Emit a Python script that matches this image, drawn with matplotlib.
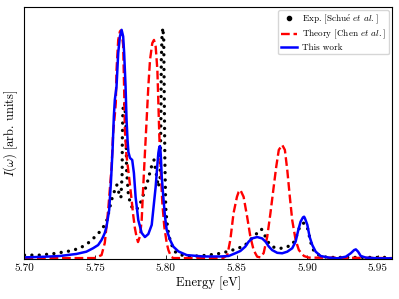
import matplotlib
matplotlib.use("Agg")
import matplotlib.pyplot as plt

plt.rcParams['font.family'] = 'serif'
plt.rcParams['font.serif'] = ['cmr10', 'DejaVu Serif']
plt.rcParams['mathtext.fontset'] = 'cm'
plt.rcParams['axes.unicode_minus'] = False

# Exp. [Schue et al.]  (energy in eV, intensity in arb. units)
exp_energy = [5.7000, 5.7107, 5.7213, 5.7320, 5.7391, 5.7447, 5.7497, 5.7545, 5.7580,
              5.7616, 5.7639, 5.7653, 5.7668, 5.7682, 5.7691, 5.7692, 5.7696, 5.7703,
              5.7710, 5.7719, 5.7722, 5.7734, 5.7746, 5.7760, 5.7781, 5.7803, 5.7829,
              5.7852, 5.7874, 5.7895, 5.7916, 5.7930, 5.7947, 5.7959, 5.7965, 5.7968,
              5.7973, 5.7979, 5.7985, 5.7989, 5.7993, 5.7999, 5.8006, 5.8018, 5.8030,
              5.8046, 5.8065, 5.8089, 5.8124, 5.8172, 5.8266, 5.8362, 5.8456, 5.8503,
              5.8550, 5.8586, 5.8610, 5.8634, 5.8657, 5.8676, 5.8692, 5.8705, 5.8729,
              5.8752, 5.8788, 5.8823, 5.8859, 5.8894, 5.8918, 5.8941, 5.8965, 5.8978,
              5.9001, 5.9012, 5.9024, 5.9036, 5.9060, 5.9095, 5.9143, 5.9581]
exp_int = [0.015, 0.015, 0.022, 0.033, 0.045, 0.066, 0.094, 0.125, 0.161,
           0.256, 0.300, 0.322, 0.287, 0.265, 0.374, 0.519, 0.650, 0.681,
           0.672, 0.562, 0.387, 0.287, 0.247, 0.225, 0.212, 0.221, 0.256,
           0.300, 0.344, 0.396, 0.431, 0.379, 0.313, 0.352, 0.606, 0.869,
           0.978, 1.009, 0.956, 0.694, 0.431, 0.225, 0.168, 0.112, 0.081,
           0.052, 0.030, 0.020, 0.013, 0.009, 0.013, 0.020, 0.033, 0.045,
           0.052, 0.074, 0.090, 0.103, 0.120, 0.129, 0.112, 0.095, 0.067,
           0.052, 0.045, 0.045, 0.052, 0.059, 0.088, 0.129, 0.153, 0.155,
           0.136, 0.107, 0.074, 0.045, 0.023, 0.011, 0.005, 0.005]

# Theory [Chen et al.]
chen_energy = [5.7000, 5.7497, 5.7545, 5.7568, 5.7592, 5.7616, 5.7627, 5.7639, 5.7646,
               5.7651, 5.7663, 5.7675, 5.7680, 5.7687, 5.7698, 5.7705, 5.7710, 5.7721,
               5.7734, 5.7746, 5.7758, 5.7769, 5.7781, 5.7793, 5.7803, 5.7817, 5.7829,
               5.7840, 5.7852, 5.7864, 5.7876, 5.7888, 5.7904, 5.7916, 5.7928, 5.7940,
               5.7947, 5.7954, 5.7964, 5.7975, 5.7989, 5.8006, 5.8018, 5.8037, 5.8053,
               5.8405, 5.8435, 5.8456, 5.8479, 5.8503, 5.8515, 5.8527, 5.8550, 5.8575,
               5.8598, 5.8621, 5.8646, 5.8669, 5.8692, 5.8717, 5.8740, 5.8763, 5.8781,
               5.8799, 5.8823, 5.8842, 5.8859, 5.8877, 5.8894, 5.8918, 5.8941, 5.8977,
               5.9012, 5.9607]
chen_int = [0.002, 0.002, 0.015, 0.068, 0.212, 0.400, 0.549, 0.628, 0.681,
            0.825, 0.956, 0.993, 0.997, 0.991, 0.934, 0.737, 0.562, 0.453,
            0.387, 0.322, 0.256, 0.190, 0.133, 0.094, 0.072, 0.098, 0.168,
            0.314, 0.462, 0.606, 0.752, 0.869, 0.942, 0.956, 0.927, 0.825,
            0.681, 0.533, 0.387, 0.243, 0.139, 0.068, 0.037, 0.008, 0.002,
            0.002, 0.015, 0.081, 0.199, 0.270, 0.291, 0.300, 0.270, 0.183,
            0.095, 0.037, 0.008, 0.005, 0.024, 0.095, 0.199, 0.314, 0.402,
            0.475, 0.497, 0.475, 0.387, 0.270, 0.168, 0.081, 0.037, 0.011,
            0.004, 0.002]

# This work
work_energy = [5.7000, 5.7107, 5.7249, 5.7367, 5.7438, 5.7485, 5.7521, 5.7545, 5.7556,
               5.7568, 5.7580, 5.7599, 5.7611, 5.7623, 5.7632, 5.7639, 5.7651, 5.7663,
               5.7675, 5.7687, 5.7698, 5.7705, 5.7715, 5.7722, 5.7729, 5.7735, 5.7746,
               5.7762, 5.7774, 5.7786, 5.7805, 5.7829, 5.7852, 5.7876, 5.7900, 5.7916,
               5.7928, 5.7937, 5.7947, 5.7954, 5.7959, 5.7964, 5.7971, 5.7982, 5.7994,
               5.8006, 5.8030, 5.8053, 5.8089, 5.8148, 5.8266, 5.8385, 5.8444, 5.8491,
               5.8527, 5.8562, 5.8586, 5.8610, 5.8646, 5.8681, 5.8705, 5.8729, 5.8752,
               5.8788, 5.8823, 5.8859, 5.8894, 5.8918, 5.8937, 5.8953, 5.8970, 5.8978,
               5.8984, 5.9001, 5.9017, 5.9036, 5.9060, 5.9095, 5.9154, 5.9214, 5.9273,
               5.9308, 5.9332, 5.9344, 5.9360, 5.9379, 5.9415, 5.9498, 5.9607]
work_int = [0.005, 0.007, 0.011, 0.020, 0.030, 0.045, 0.059, 0.081, 0.095,
            0.112, 0.139, 0.212, 0.329, 0.475, 0.621, 0.694, 0.752, 0.899,
            0.971, 1.000, 0.971, 0.899, 0.752, 0.606, 0.519, 0.466, 0.440,
            0.431, 0.374, 0.269, 0.168, 0.112, 0.094, 0.107, 0.147, 0.243,
            0.314, 0.387, 0.462, 0.488, 0.492, 0.453, 0.358, 0.270, 0.183,
            0.125, 0.081, 0.052, 0.031, 0.015, 0.009, 0.009, 0.011, 0.023,
            0.033, 0.052, 0.074, 0.088, 0.094, 0.088, 0.074, 0.052, 0.037,
            0.025, 0.023, 0.030, 0.045, 0.074, 0.125, 0.161, 0.180, 0.183,
            0.176, 0.147, 0.095, 0.059, 0.030, 0.011, 0.004, 0.001, 0.008,
            0.023, 0.037, 0.040, 0.030, 0.011, 0.004, 0.001, 0.001]

xticks = [5.70, 5.75, 5.80, 5.85, 5.90, 5.95]

fig = plt.figure(figsize=(3.99, 2.99), dpi=100)
ax = fig.add_axes([0.0614, 0.1338, 0.9211, 0.8428])

# experimental points drawn as a round-dotted line (evenly spaced dots along the curve)
ax.plot([], [], 'k.', ms=6, label=r'Exp. [Schu$\acute{\rm e}$ $et$ $al.$]')
ax.plot(exp_energy, exp_int, color='k', lw=2.4, ls=(0, (0.01, 2.2)),
        dash_capstyle='round', label='_nolegend_')
ax.plot(chen_energy, chen_int, 'r--', lw=1.7, label=r'Theory [Chen $et$ $al.$]')
ax.plot(work_energy, work_int, 'b-', lw=1.8, label='This work')

ax.set_xlim(5.70, 5.96)
ax.set_ylim(-0.002, 1.10)
ax.set_xticks(xticks)
ax.set_xticklabels(['%.2f' % t for t in xticks], fontsize=8)
ax.set_yticks([])
ax.tick_params(axis='x', direction='in', length=3, width=0.6)
ax.set_xlabel('Energy [eV]', fontsize=9, labelpad=2)
ax.set_ylabel(r'$I(\omega)$ [arb. units]', fontsize=9, labelpad=3)
ax.legend(loc='upper right', fontsize=6.6, numpoints=1, handlelength=1.7,
          labelspacing=0.2, borderpad=0.3, handletextpad=0.6, borderaxespad=0.35)

fig.savefig('out.png', dpi=100)
